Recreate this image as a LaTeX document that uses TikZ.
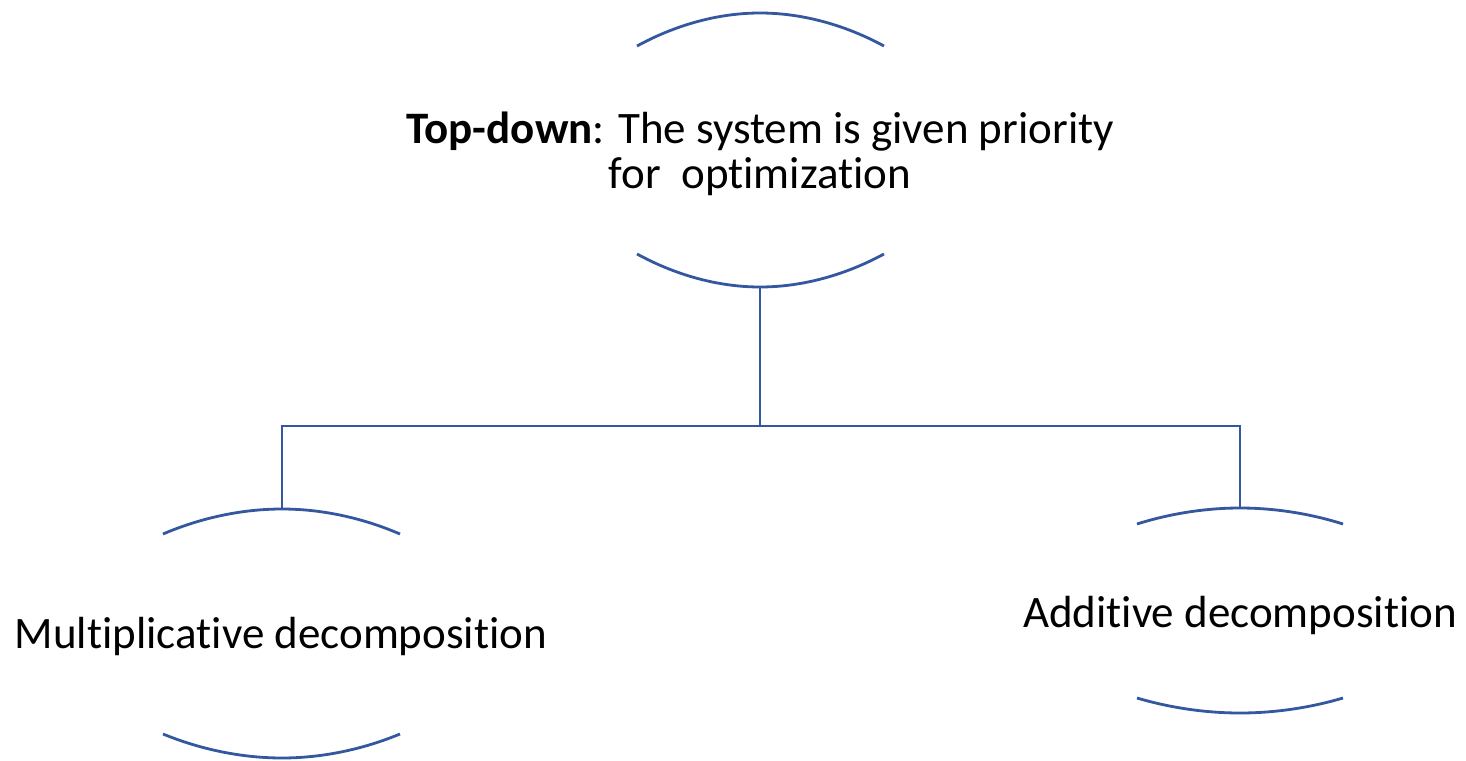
\documentclass[tikz,border=0pt]{standalone}
\usepackage{fontspec}
\setmainfont{Carlito}[Ligatures=CommonOff]
\definecolor{linkblue}{RGB}{52,88,160}
% plain t followed by i, kept apart so no ligature forms
\newcommand\tsepi{t\kern0pt i}
\begin{document}
\begin{tikzpicture}[x=1pt,y=-1pt,
  lbl/.style={font=\fontsize{45}{45}\selectfont, inner sep=0pt, text=black},
  brace/.style={draw=linkblue, line width=2.8pt},
  link/.style={draw=linkblue, line width=2.8pt}]
  \useasboundingbox (0,0) rectangle (1466,760);
  \fill[white] (0,0) rectangle (1466,760);

  % labels
  \node[lbl, anchor=base] (top1) at (760,143) {\textbf{Top-down}: The system is given priority};
  \node[lbl, anchor=base] (top2) at (760,188) {for\ \ op\tsepi miza\tsepi on};
  \node[lbl, anchor=base] (mult) at (281,648) {Multiplica\tsepi ve decomposi\tsepi on};
  \node[lbl, anchor=base] (add) at (1240,627) {Addi\tsepi ve decomposi\tsepi on};

  % arc apexes of each shape
  \coordinate (topT) at (760,13);
  \coordinate (topB) at (760,287);
  \coordinate (multT) at (282,509);
  \coordinate (multB) at (282,758);
  \coordinate (addT) at (1240,508);
  \coordinate (addB) at (1240,713);
  \coordinate (split) at (760,426);

  % top shape
  \draw[brace] (637,46) parabola bend (topT) (884,46);
  \draw[brace] (637,254) parabola bend (topB) (884,254);
  % left shape
  \draw[brace] (163,534) parabola bend (multT) (400,534);
  \draw[brace] (163,734) parabola bend (multB) (400,734);
  % right shape
  \draw[brace] (1137,524) parabola bend (addT) (1343,524);
  \draw[brace] (1137,698) parabola bend (addB) (1343,698);

  % connectors
  \draw[link] (topB) -- (split);
  \draw[link] (split) -| (multT);
  \draw[link] (split) -| (addT);
\end{tikzpicture}
\end{document}
